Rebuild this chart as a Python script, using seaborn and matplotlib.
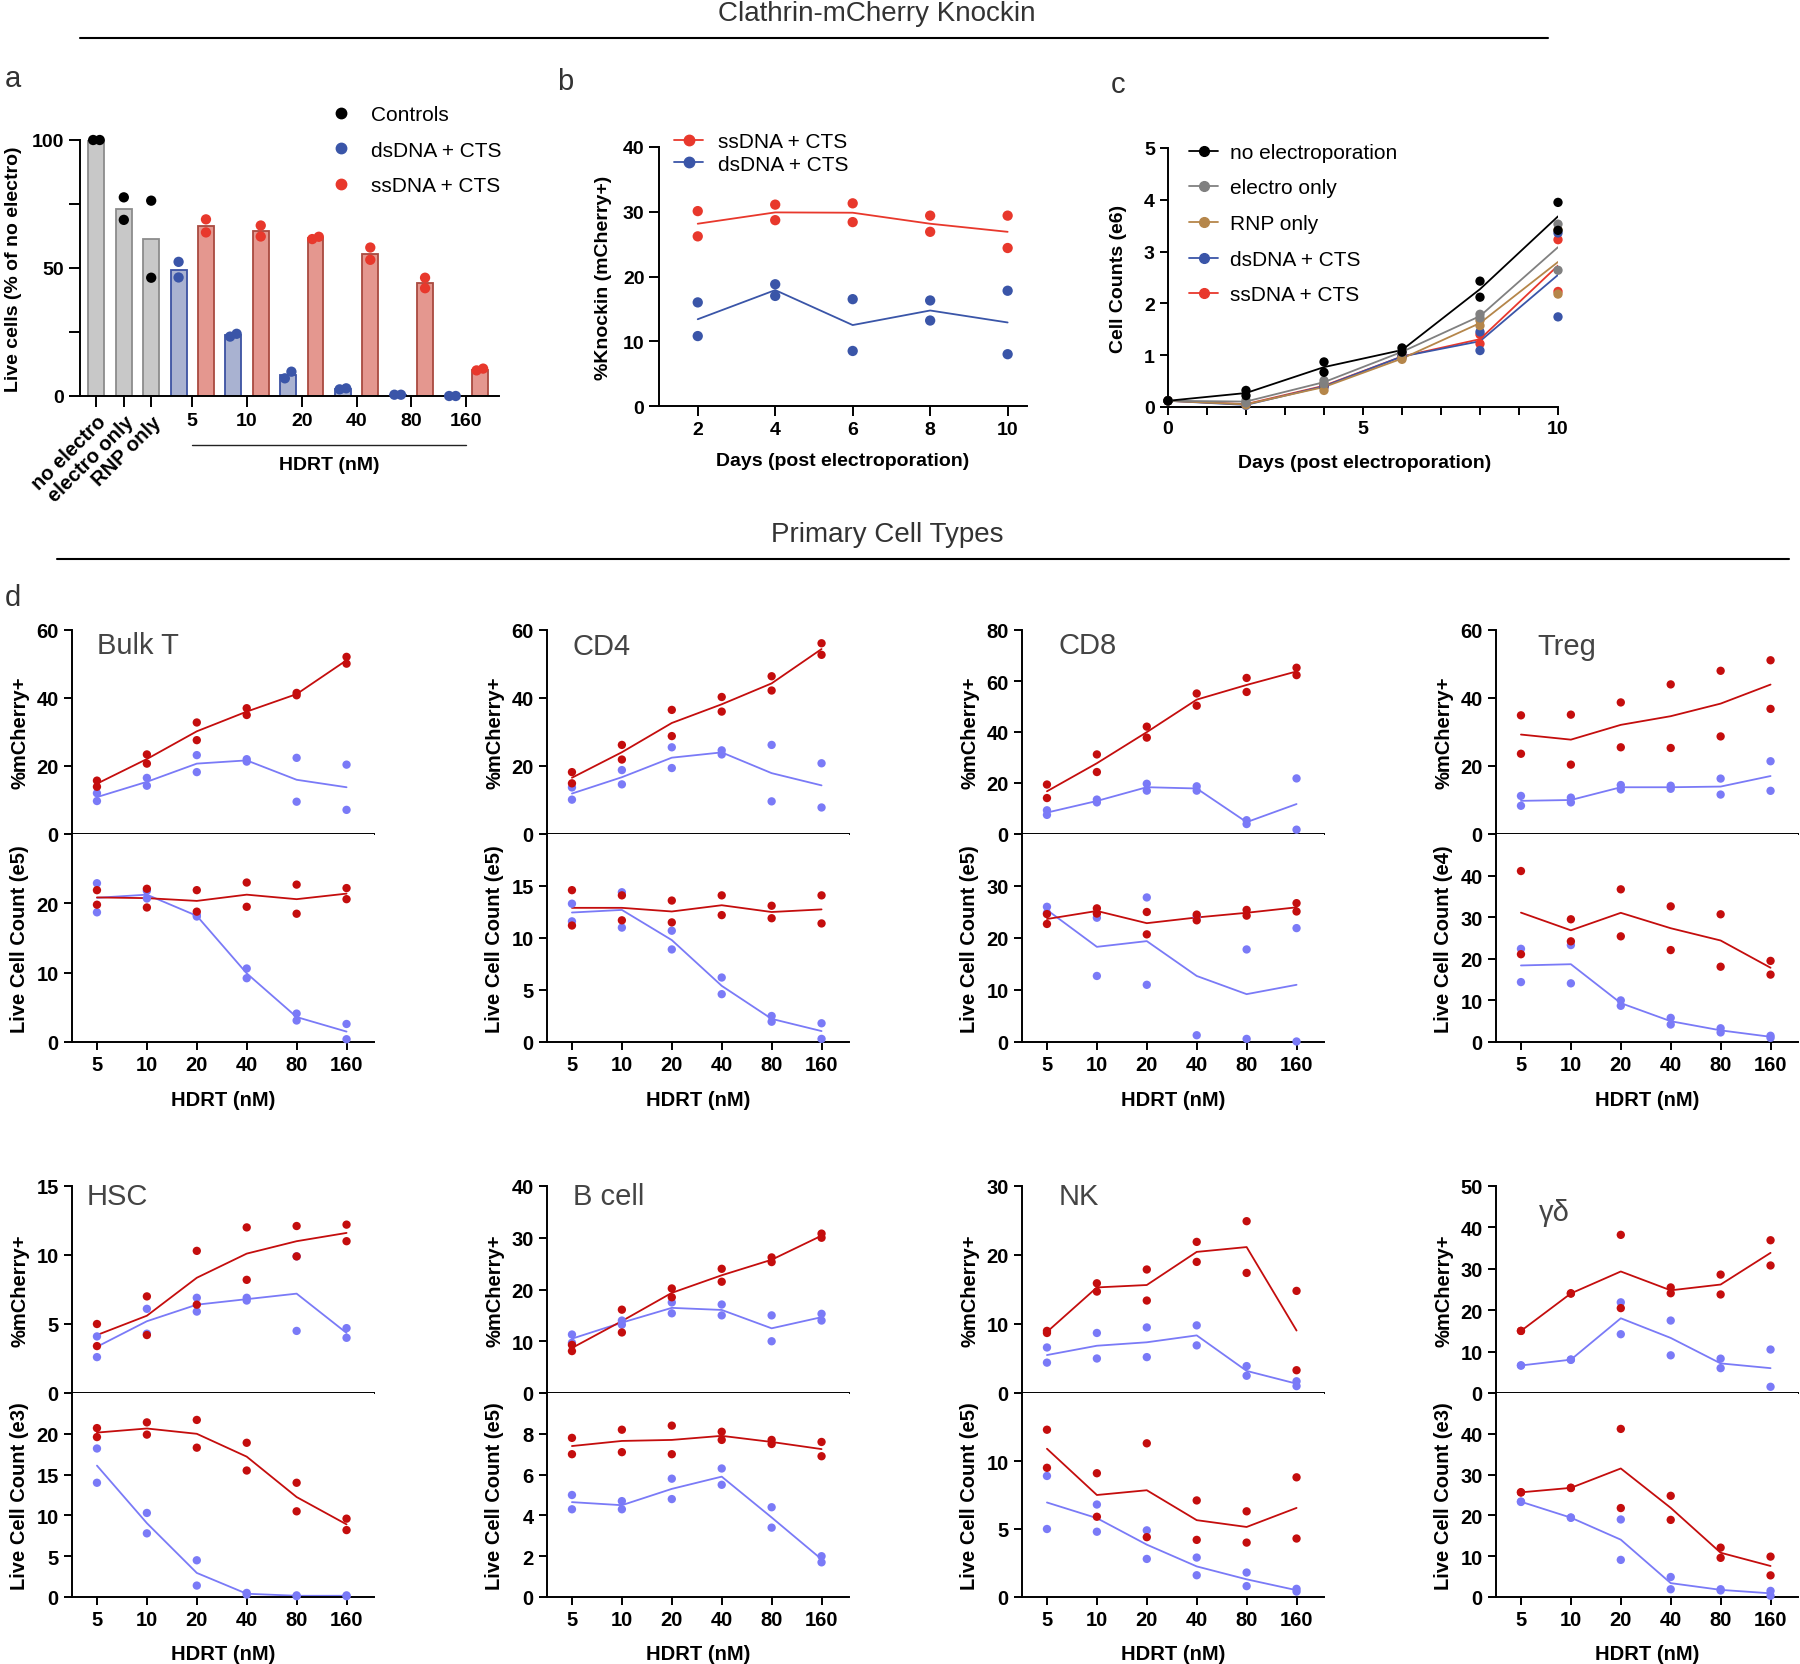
import numpy as np
import pandas as pd
import seaborn as sns
from matplotlib import pyplot as plt
from matplotlib.lines import Line2D

# ---------------- panel a: live cells (% of no electro), two replicates per bar
control_labels = ['no electro', 'electro only', 'RNP only']
control_live = [[100, 100], [77.6, 68.8], [76.3, 46.2]]
doses = [5, 10, 20, 40, 80, 160]
ds_live = [[52.4, 46.3], [23.2, 24.3], [6.9, 9.5], [2.6, 3.0], [0.5, 0.5], [0.0, 0.0]]
ss_live = [[69.0, 63.9], [66.6, 62.3], [61.3, 62.2], [58.0, 53.2], [42.1, 46.2], [10.0, 10.7]]

# ---------------- panel b: %knockin over days
days_b = [2, 4, 6, 8, 10]
ss_knockin = [[30.1, 26.2], [31.1, 28.7], [31.3, 28.4], [29.4, 26.9], [29.4, 24.4]]
ds_knockin = [[16.0, 10.8], [18.8, 17.0], [16.5, 8.5], [16.3, 13.2], [17.8, 8.0]]

# ---------------- panel c: cell counts (e6)
days_c = [0, 2, 4, 6, 8, 10]
no_ep_counts = [[0.12, 0.12], [0.32, 0.22], [0.87, 0.67], [1.14, 1.06], [2.43, 2.12], [3.95, 3.41]]
electro_counts = [[0.12, 0.12], [0.13, 0.08], [0.51, 0.45], [1.08, 1.05], [1.79, 1.72], [3.53, 2.64]]
rnp_counts = [[0.12, 0.12], [0.06, 0.04], [0.32, 0.45], [0.92, 0.95], [1.67, 1.57], [2.18, 3.42]]
ds_counts = [[0.12, 0.12], [0.05, 0.03], [0.38, 0.42], [0.97, 0.98], [1.45, 1.09], [1.74, 3.36]]
ss_counts = [[0.12, 0.12], [0.06, 0.05], [0.42, 0.40], [0.97, 0.98], [1.22, 1.40], [3.23, 2.23]]

# ---------------- panel d: primary cell types (per HDRT dose, two replicates)
bulkt_ki_ds = [[12.0, 9.7], [16.5, 14.2], [23.2, 18.2], [22.0, 21.3], [22.4, 9.5], [20.4, 7.1]]
bulkt_ki_ss = [[15.7, 13.9], [23.4, 20.7], [32.8, 27.6], [37.0, 35.0], [41.5, 40.8], [52.1, 50.1]]
bulkt_live_ds = [[22.9, 18.7], [21.8, 20.7], [18.1, 18.3], [10.6, 9.2], [4.1, 3.1], [2.6, 0.4]]
bulkt_live_ss = [[21.9, 19.8], [22.1, 19.4], [21.9, 18.8], [23.0, 19.5], [22.7, 18.5], [22.2, 20.6]]

cd4_ki_ds = [[13.7, 10.1], [18.8, 14.6], [25.5, 19.4], [24.6, 23.4], [26.2, 9.6], [20.8, 7.8]]
cd4_ki_ss = [[18.2, 14.9], [26.2, 21.9], [36.5, 28.8], [40.3, 36.0], [46.4, 42.2], [56.1, 52.7]]
cd4_live_ds = [[13.3, 11.6], [14.4, 11.0], [10.7, 8.9], [6.2, 4.6], [2.5, 1.95], [1.8, 0.3]]
cd4_live_ss = [[14.6, 11.2], [14.1, 11.7], [13.6, 11.5], [14.1, 12.2], [13.1, 11.9], [14.1, 11.4]]

cd8_ki_ds = [[9.3, 7.5], [13.5, 12.4], [19.7, 17.0], [18.7, 17.0], [5.4, 3.9], [21.8, 1.7]]
cd8_ki_ss = [[19.4, 14.1], [31.2, 24.3], [42.1, 37.8], [55.1, 50.3], [61.2, 55.7], [65.2, 62.3]]
cd8_live_ds = [[26.0, 24.8], [23.9, 12.7], [27.8, 11.0], [24.1, 1.3], [17.8, 0.6], [21.9, 0.1]]
cd8_live_ss = [[24.6, 22.7], [25.7, 24.7], [25.0, 20.7], [24.5, 23.4], [25.4, 24.3], [26.7, 25.1]]

treg_ki_ds = [[11.2, 8.3], [10.7, 9.3], [14.4, 13.1], [14.2, 13.3], [16.3, 11.6], [21.4, 12.7]]
treg_ki_ss = [[34.9, 23.6], [35.1, 20.4], [38.7, 25.5], [44.0, 25.3], [48.0, 28.7], [51.1, 36.8]]
treg_live_ds = [[22.4, 14.4], [23.3, 14.1], [10.0, 8.7], [5.8, 4.2], [3.3, 2.3], [1.5, 1.0]]
treg_live_ss = [[41.1, 21.1], [29.5, 24.2], [36.7, 25.4], [32.6, 22.1], [30.7, 18.1], [19.5, 16.2]]

hsc_ki_ds = [[4.1, 2.6], [6.1, 4.3], [6.9, 5.9], [6.9, 6.7], [9.9, 4.5], [4.7, 4.0]]
hsc_ki_ss = [[5.0, 3.4], [7.0, 4.2], [10.3, 6.4], [12.0, 8.2], [12.1, 9.9], [12.2, 11.0]]
hsc_live_ds = [[18.2, 14.0], [10.3, 7.8], [4.5, 1.4], [0.5, 0.3], [0.2, 0.1], [0.2, 0.1]]
hsc_live_ss = [[20.7, 19.6], [21.4, 19.9], [21.7, 18.3], [18.9, 15.5], [14.0, 10.5], [9.6, 8.2]]

bcell_ki_ds = [[11.3, 9.7], [14.0, 13.2], [17.5, 15.4], [17.1, 15.0], [15.0, 10.0], [15.3, 14.0]]
bcell_ki_ss = [[9.3, 8.1], [16.1, 11.7], [20.2, 18.5], [24.0, 21.5], [26.2, 25.3], [30.8, 30.0]]
bcell_live_ds = [[5.0, 4.3], [4.7, 4.3], [5.8, 4.8], [6.3, 5.5], [4.4, 3.4], [2.0, 1.7]]
bcell_live_ss = [[7.8, 7.0], [8.2, 7.1], [8.4, 7.0], [8.1, 7.7], [7.7, 7.5], [7.6, 6.9]]

nk_ki_ds = [[6.6, 4.4], [8.7, 5.0], [9.5, 5.2], [9.8, 6.9], [3.9, 2.5], [1.7, 1.0]]
nk_ki_ss = [[9.0, 8.7], [15.9, 14.7], [17.9, 13.4], [21.9, 19.0], [24.9, 17.4], [14.8, 3.3]]
nk_live_ds = [[8.9, 5.0], [6.8, 4.8], [4.9, 2.8], [2.9, 1.6], [1.8, 0.8], [0.6, 0.4]]
nk_live_ss = [[12.3, 9.5], [9.1, 5.9], [11.3, 4.4], [7.1, 4.2], [6.3, 4.0], [8.8, 4.3]]

gd_ki_ds = [[6.6, 6.7], [8.0, 8.1], [21.9, 14.2], [17.5, 9.1], [8.3, 6.0], [10.5, 1.5]]
gd_ki_ss = [[15.0, 15.0], [24.0, 24.1], [38.2, 20.5], [25.5, 24.1], [28.6, 23.8], [36.9, 30.8]]
gd_live_ds = [[23.3, 23.4], [19.4, 19.5], [19.0, 9.1], [4.9, 1.9], [1.9, 1.6], [1.5, 0.3]]
gd_live_ss = [[25.6, 25.7], [26.7, 26.8], [41.2, 21.8], [24.8, 18.9], [12.1, 9.6], [9.9, 5.3]]

# name, knockin ds/ss, live ds/ss, knockin ymax/step, live ymax/step, count unit
cell_panels = [
    ('Bulk T', bulkt_ki_ds, bulkt_ki_ss, bulkt_live_ds, bulkt_live_ss, 60, 20, 30, 10, 'e5'),
    ('CD4', cd4_ki_ds, cd4_ki_ss, cd4_live_ds, cd4_live_ss, 60, 20, 20, 5, 'e5'),
    ('CD8', cd8_ki_ds, cd8_ki_ss, cd8_live_ds, cd8_live_ss, 80, 20, 40, 10, 'e5'),
    ('Treg', treg_ki_ds, treg_ki_ss, treg_live_ds, treg_live_ss, 60, 20, 50, 10, 'e4'),
    ('HSC', hsc_ki_ds, hsc_ki_ss, hsc_live_ds, hsc_live_ss, 15, 5, 25, 5, 'e3'),
    ('B cell', bcell_ki_ds, bcell_ki_ss, bcell_live_ds, bcell_live_ss, 40, 10, 10, 2, 'e5'),
    ('NK', nk_ki_ds, nk_ki_ss, nk_live_ds, nk_live_ss, 30, 10, 15, 5, 'e5'),
    ('γδ', gd_ki_ds, gd_ki_ss, gd_live_ds, gd_live_ss, 50, 10, 50, 10, 'e3'),
]
title_pos = [(0.083, 0.887), (0.086, 0.882), (0.12, 0.887), (0.136, 0.882),
             (0.05, 0.913), (0.086, 0.913), (0.12, 0.913), (0.142, 0.837)]

# ---------------- style
sns.set_theme(style='ticks', rc={'axes.edgecolor': 'black', 'xtick.color': 'black',
                                 'ytick.color': 'black', 'text.color': 'black',
                                 'axes.labelcolor': 'black', 'axes.linewidth': 1.4})
plt.rcParams['font.family'] = ['Liberation Sans', 'DejaVu Sans']

W, H = 1800, 1665
fig = plt.figure(figsize=(W / 100, H / 100), dpi=100)


def add_axes_px(x0, y0, x1, y1):
    return fig.add_axes([x0 / W, 1 - y1 / H, (x1 - x0) / W, (y1 - y0) / H])


def style(ax, ticklen):
    sns.despine(ax=ax)
    ax.tick_params(which='both', width=1.4, length=ticklen)


def bold_ticks(ax, size):
    for lab in ax.get_xticklabels() + ax.get_yticklabels():
        lab.set_fontweight('bold')
        lab.set_fontsize(size)


def to_long(xs, series):
    rows = []
    for name, reps in series.items():
        for x, pair in zip(xs, reps):
            for v in pair:
                rows.append((x, name, v))
    return pd.DataFrame(rows, columns=['x', 'group', 'val'])


# ================= panel a
fill = {'Controls': '#c8c8c8', 'dsDNA + CTS': '#a2aed8', 'ssDNA + CTS': '#f28b81'}
edge = {'Controls': '#8c8c8c', 'dsDNA + CTS': '#3c52a2', 'ssDNA + CTS': '#a94a40'}
dots = {'Controls': 'black', 'dsDNA + CTS': '#3a55a8', 'ssDNA + CTS': '#e8382c'}

rows = []
for lab, pair in zip(control_labels, control_live):
    rows += [(lab, 'Controls', v) for v in pair]
for d, dpair, spair in zip(doses, ds_live, ss_live):
    rows += [(f'ds {d}', 'dsDNA + CTS', v) for v in dpair]
    rows += [(f'ss {d}', 'ssDNA + CTS', v) for v in spair]
df_a = pd.DataFrame(rows, columns=['bar', 'group', 'val'])
bar_order = list(dict.fromkeys(df_a['bar']))
bar_group = dict(zip(df_a['bar'], df_a['group']))
# replicates that would overlap are put side by side, like a swarm
idx = df_a['bar'].map({b: i for i, b in enumerate(bar_order)}).astype(float)
close = df_a.groupby('bar')['val'].transform(lambda s: s.max() - s.min() < 4).astype(bool)
side = df_a.groupby('bar').cumcount().map({0: -1, 1: 1})
df_a['xpos'] = idx + np.where(close, 0.12 * side, 0.0)

ax_a = add_axes_px(80, 141, 499, 397)
sns.barplot(data=df_a, x='bar', y='val', hue='bar', order=bar_order, hue_order=bar_order,
            palette={b: fill[bar_group[b]] for b in bar_order}, estimator='mean',
            errorbar=None, width=0.58, linewidth=1.3, legend=False, ax=ax_a)
for patch in ax_a.patches:
    b = bar_order[int(round(patch.get_x() + patch.get_width() / 2))]
    patch.set_edgecolor(edge[bar_group[b]])
sns.scatterplot(data=df_a, x='xpos', y='val', hue='group', palette=dots, s=55,
                edgecolor='none', legend=False, ax=ax_a, clip_on=False, zorder=3)
style(ax_a, 8)
tick_pos = [0, 1, 2] + [bar_order.index(f'ds {d}') + 0.5 for d in doses]
ax_a.set_xticks(tick_pos, control_labels + [str(d) for d in doses])
ax_a.set_xlim(-0.6, 14.7)
ax_a.set_ylim(0, 100)
ax_a.set_yticks([0, 50, 100])
ax_a.set_yticks([25, 75], minor=True)
ax_a.set_xlabel('')
ax_a.set_ylabel('Live cells (% of no electro)', fontsize=14, fontweight='bold')
ax_a.yaxis.set_label_coords(-0.139, 0.5)
xt = ax_a.get_xaxis_transform()
ax_a.plot([tick_pos[3], tick_pos[-1]], [-0.19, -0.19], transform=xt, color='#222222',
          lw=1.0, clip_on=False)
ax_a.text((tick_pos[3] + tick_pos[-1]) / 2, -0.266, 'HDRT (nM)', transform=xt,
          ha='center', va='center', fontsize=14, fontweight='bold')
handles = [Line2D([], [], ls='none', marker='o', color=dots[g], markersize=7.5) for g in dots]
ax_a.legend(handles, list(dots), loc='upper left', bbox_to_anchor=(0.604, 1.137),
            frameon=False, fontsize=15, handlelength=0.8, handletextpad=1.0,
            labelspacing=0.8, borderpad=0, borderaxespad=0)
bold_ticks(ax_a, 14)
for lab in ax_a.get_xticklabels()[:3]:
    lab.set_rotation(45)
    lab.set_ha('right')
    lab.set_rotation_mode('anchor')
    lab.set_fontsize(14.5)

# ================= panel b
b_colors = {'ssDNA + CTS': '#e8382c', 'dsDNA + CTS': '#3a55a8'}
df_b = to_long(days_b, {'ssDNA + CTS': ss_knockin, 'dsDNA + CTS': ds_knockin})
ax_b = add_axes_px(659, 148, 1027, 407)
sns.lineplot(data=df_b, x='x', y='val', hue='group', palette=b_colors, estimator='mean',
             errorbar=None, lw=1.3, legend=False, ax=ax_b)
sns.scatterplot(data=df_b, x='x', y='val', hue='group', palette=b_colors, s=55,
                edgecolor='none', legend=False, ax=ax_b, clip_on=False, zorder=3)
style(ax_b, 7)
ax_b.set_xlim(1, 10.5)
ax_b.set_ylim(0, 40)
ax_b.set_xticks(days_b)
ax_b.set_yticks([0, 10, 20, 30, 40])
ax_b.set_xlabel('Days (post electroporation)', fontsize=14, fontweight='bold')
ax_b.set_ylabel('%Knockin (mCherry+)', fontsize=14, fontweight='bold')
ax_b.xaxis.set_label_coords(0.5, -0.178)
ax_b.yaxis.set_label_coords(-0.128, 0.5)
handles = [Line2D([], [], marker='o', color=c, markersize=7.5, lw=1.3) for c in b_colors.values()]
ax_b.legend(handles, list(b_colors), loc='upper left', bbox_to_anchor=(0.041, 1.058),
            frameon=False, fontsize=15, handlelength=1.4, handletextpad=0.72,
            labelspacing=0.17, borderpad=0, borderaxespad=0)
bold_ticks(ax_b, 14)

# ================= panel c
c_colors = {'no electroporation': 'black', 'electro only': '#808080', 'RNP only': '#b5864a',
            'dsDNA + CTS': '#3a55a8', 'ssDNA + CTS': '#e8382c'}
df_c = to_long(days_c, {'ssDNA + CTS': ss_counts, 'dsDNA + CTS': ds_counts,
                        'RNP only': rnp_counts, 'electro only': electro_counts,
                        'no electroporation': no_ep_counts})
ax_c = add_axes_px(1168, 149, 1558, 408)
sns.lineplot(data=df_c, x='x', y='val', hue='group', palette=c_colors, estimator='mean',
             errorbar=None, lw=1.3, legend=False, ax=ax_c)
sns.scatterplot(data=df_c, x='x', y='val', hue='group', palette=c_colors, s=45,
                edgecolor='none', legend=False, ax=ax_c, clip_on=False, zorder=3)
style(ax_c, 6)
ax_c.set_xlim(0, 10)
ax_c.set_ylim(0, 5)
ax_c.set_xticks([0, 5, 10])
ax_c.set_xticks(range(11), minor=True)
ax_c.set_yticks(range(6))
ax_c.set_xlabel('Days (post electroporation)', fontsize=14, fontweight='bold')
ax_c.set_ylabel('Cell Counts (e6)', fontsize=14, fontweight='bold')
ax_c.xaxis.set_label_coords(0.505, -0.18)
ax_c.yaxis.set_label_coords(-0.105, 0.5)
handles = [Line2D([], [], marker='o', color=c, markersize=7, lw=1.3) for c in c_colors.values()]
ax_c.legend(handles, list(c_colors), loc='upper left', bbox_to_anchor=(0.055, 1.02),
            frameon=False, fontsize=15, handlelength=1.35, handletextpad=0.6,
            labelspacing=0.8, borderpad=0, borderaxespad=0)
bold_ticks(ax_c, 14)

# ================= panel d
d_colors = {'dsDNA + CTS': '#7a7af7', 'ssDNA + CTS': '#c40d0d'}
cols_px = [72, 547, 1022, 1496]
rows_px = [(631, 835, 1043), (1187, 1394, 1598)]
pos = list(range(len(doses)))
for i, (name, ki_ds, ki_ss, lv_ds, lv_ss, kmax, kstep, lmax, lstep, unit) in enumerate(cell_panels):
    x0 = cols_px[i % 4]
    top, mid, bot = rows_px[i // 4]
    ax_t = add_axes_px(x0, top, x0 + 302, mid)
    ax_l = add_axes_px(x0, mid, x0 + 302, bot)
    for ax, ds, ss in ((ax_t, ki_ds, ki_ss), (ax_l, lv_ds, lv_ss)):
        df = to_long(pos, {'dsDNA + CTS': ds, 'ssDNA + CTS': ss})
        sns.lineplot(data=df, x='x', y='val', hue='group', palette=d_colors, estimator='mean',
                     errorbar=None, lw=1.3, legend=False, ax=ax)
        sns.scatterplot(data=df, x='x', y='val', hue='group', palette=d_colors, s=36,
                        edgecolor='none', legend=False, ax=ax, clip_on=False, zorder=3)
        style(ax, 6)
        ax.set_xlim(-0.5, 5.55)
        ax.set_xticks(pos)
        ax.set_xlabel('')
    ax_t.set_ylim(0, kmax)
    ax_t.set_yticks(np.arange(0, kmax + 1, kstep))
    ax_t.tick_params(labelbottom=False)
    ax_t.set_ylabel('%mCherry+', fontsize=14.5, fontweight='bold')
    ax_l.set_ylim(0, lmax)
    ax_l.set_yticks(np.arange(0, lmax, lstep))
    ax_l.set_xticks(pos, [str(d) for d in doses])
    ax_l.set_ylabel(f'Live Cell Count ({unit})', fontsize=14.5, fontweight='bold')
    ax_l.set_xlabel('HDRT (nM)', fontsize=14.5, fontweight='bold')
    ax_l.xaxis.set_label_coords(0.5, -0.23)
    for ax in (ax_t, ax_l):
        ax.yaxis.set_label_coords(-0.142, 0.5)
        bold_ticks(ax, 14.5)
    tx, ty = title_pos[i]
    ax_t.text(tx, ty, name, transform=ax_t.transAxes, fontsize=21, color='#444444',
              ha='left', va='baseline')

# ================= headings, rules, panel letters
fig.text(877 / W, 1 - 14 / H, 'Clathrin-mCherry Knockin', ha='center', va='center',
         fontsize=20, color='#333333')
fig.text(887 / W, 1 - 535 / H, 'Primary Cell Types', ha='center', va='center',
         fontsize=20, color='#333333')
fig.add_artist(Line2D([80 / W, 1548 / W], [1 - 39 / H, 1 - 39 / H], color='black', lw=1.5))
fig.add_artist(Line2D([57 / W, 1789 / W], [1 - 560 / H, 1 - 560 / H], color='black', lw=1.5))
for letter, (lx, ly) in zip('abcd', [(13, 79), (565, 82), (1118, 85), (13, 598)]):
    fig.text(lx / W, 1 - ly / H, letter, ha='center', va='center', fontsize=21, color='#333333')

fig.savefig('out.png', dpi=100)
